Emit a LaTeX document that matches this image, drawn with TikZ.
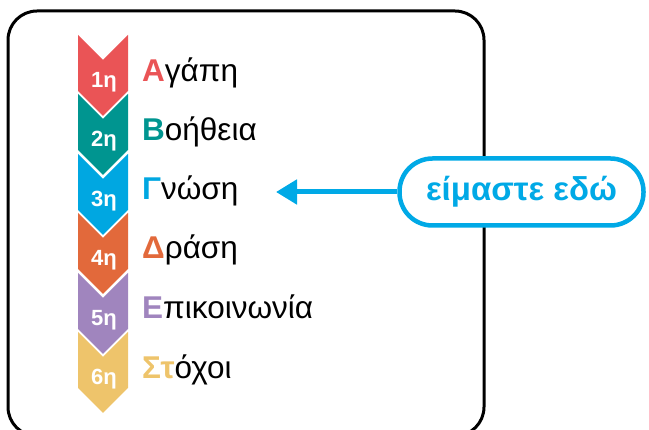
\documentclass[tikz,border=0pt]{standalone}
\usepackage{fontspec}
\setmainfont{Liberation Sans}
\usetikzlibrary{arrows.meta}

\definecolor{chred}{HTML}{EA5456}
\definecolor{chteal}{HTML}{009590}
\definecolor{chblue}{HTML}{00A7E1}
\definecolor{chorange}{HTML}{E2693B}
\definecolor{chpurple}{HTML}{A085BE}
\definecolor{chyellow}{HTML}{EEC46B}
\definecolor{herecyan}{HTML}{00A9E6}

\tikzset{
  frame/.style={line width=3pt, rounded corners=29pt},
  stepnum/.style={anchor=base, text=white, font=\fontsize{22}{22}\selectfont\bfseries, inner sep=0pt},
  steptext/.style={anchor=base west, font=\fontsize{31.5}{31.5}\selectfont, inner sep=0pt},
  herebox/.style={draw=herecyan, line width=4.5pt, fill=white, rounded corners=33pt,
    minimum width=244pt, minimum height=67pt, text=herecyan,
    font=\fontsize{33}{33}\selectfont\bfseries},
  herearrow/.style={draw=herecyan, line width=5pt, -{Triangle[length=21pt,width=24pt]}}
}

\begin{document}
\begin{tikzpicture}[x=1pt, y=-1pt]
\useasboundingbox (0,0) rectangle (649,430);

\draw[frame] (8,11) rectangle (484,436);

% chevrons
\fill[chred] (78,35) -- (103,60) -- (128,35) -- (128,91) -- (103,116) -- (78,91) -- cycle;
\node[stepnum] (n1) at (104,88) {1η};

\fill[chteal] (78,94) -- (103,119) -- (128,94) -- (128,150) -- (103,175) -- (78,150) -- cycle;
\node[stepnum] (n2) at (104,147) {2η};

\fill[chblue] (78,154) -- (103,179) -- (128,154) -- (128,210) -- (103,235) -- (78,210) -- cycle;
\node[stepnum] (n3) at (104,207) {3η};

\fill[chorange] (78,213) -- (103,238) -- (128,213) -- (128,269) -- (103,294) -- (78,269) -- cycle;
\node[stepnum] (n4) at (104,266) {4η};

\fill[chpurple] (78,273) -- (103,298) -- (128,273) -- (128,329) -- (103,354) -- (78,329) -- cycle;
\node[stepnum] (n5) at (104,326) {5η};

\fill[chyellow] (78,332) -- (103,357) -- (128,332) -- (128,388) -- (103,413) -- (78,388) -- cycle;
\node[stepnum] (n6) at (104,385) {6η};

% step names
\node[steptext] (agapi) at (142,82) {\textbf{\color{chred}Α}γάπη};
\node[steptext] (voitheia) at (142,141) {\textbf{\color{chteal}Β}οήθεια};
\node[steptext] (gnosi) at (142,200) {\textbf{\color{chblue}Γ}νώση};
\node[steptext] (drasi) at (142,259) {\textbf{\color{chorange}Δ}ράση};
\node[steptext] (epikoinonia) at (142,319) {\textbf{\color{chpurple}Ε}πικοινωνία};
\node[steptext] (stochoi) at (142,379) {\textbf{\color{chyellow}Στ}όχοι};

% we are here
\node[herebox] (edo) at (521.5,192) {είμαστε εδώ};
\coordinate (here) at (276,192);
\draw[herearrow] (edo.west) -- (here);
\end{tikzpicture}
\end{document}
